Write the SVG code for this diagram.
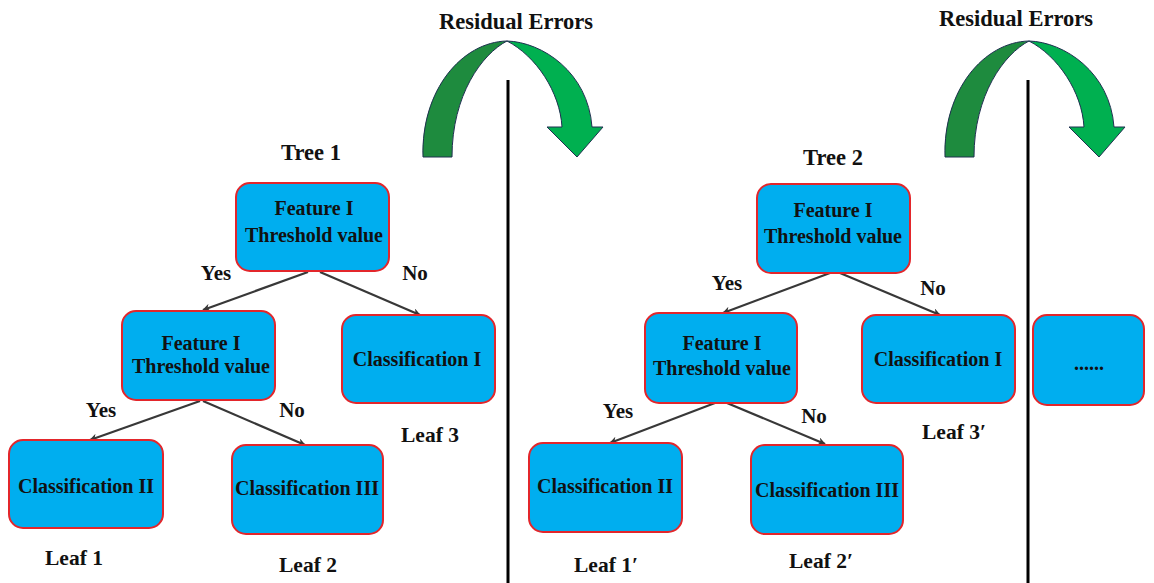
<svg xmlns="http://www.w3.org/2000/svg" width="1154" height="583" viewBox="0 0 1154 583">
<defs>
<style>
.box{fill:#00AEEF;stroke:#E3262B;stroke-width:2}
.t{font-family:"Liberation Serif",serif;font-weight:bold;fill:#111;text-anchor:middle}
.bt{font-size:20px}
.lbl{font-size:21px}
.lf{font-size:21.5px}
.ttl{font-size:22.5px}
.cn{stroke:#383838;stroke-width:2.2;fill:none;marker-end:url(#ah)}
.sep{stroke:#000;stroke-width:3}
</style>
<marker id="ah" viewBox="0 0 10 10" refX="9" refY="5" markerWidth="8" markerHeight="8" orient="auto" markerUnits="userSpaceOnUse">
<path d="M0,0 L10,5 L0,10 L3,5 Z" fill="#383838"/>
</marker>
<g id="curl">
<path d="M423,157 C421,90 462,42 507,41 C482,54 452,95 452,157 Z" fill="#1E8B3E" stroke="#1f3050" stroke-width="1"/>
<path d="M507,41 C542,42 588,72 592,127 L603,127 L577,157 L547,127 L562,127 C560,92 536,56 507,41 Z" fill="#00B050" stroke="#1f3050" stroke-width="1"/>
</g>
</defs>
<rect width="1154" height="583" fill="#fff"/>

<g id="residual1">
<use href="#curl"/>
<text class="t ttl" x="516" y="29">Residual Errors</text>
</g>
<g id="residual2">
<use href="#curl" transform="translate(522,0)"/>
<text class="t ttl" x="1016" y="26">Residual Errors</text>
</g>

<g id="separators">
<line class="sep" x1="508" y1="80" x2="508" y2="583"/>
<line class="sep" x1="1028" y1="80" x2="1028" y2="583"/>
</g>

<g id="connectors">
<path class="cn" d="M308,272 L203,310"/>
<path class="cn" d="M320,272 L420,315"/>
<path class="cn" d="M200,401 L90,440"/>
<path class="cn" d="M203,401 L305,445"/>
<path class="cn" d="M830,273 L723,313"/>
<path class="cn" d="M840,273 L940,315"/>
<path class="cn" d="M715,403 L610,443"/>
<path class="cn" d="M727,403 L825,444"/>
</g>

<g id="labels">
<text class="t ttl" x="311" y="160">Tree 1</text>
<text class="t ttl" x="833" y="165">Tree 2</text>
<text class="t lbl" x="216" y="280">Yes</text>
<text class="t lbl" x="415" y="280">No</text>
<text class="t lbl" x="101" y="417">Yes</text>
<text class="t lbl" x="292" y="417">No</text>
<text class="t lbl" x="727" y="290">Yes</text>
<text class="t lbl" x="933" y="295">No</text>
<text class="t lbl" x="618" y="418">Yes</text>
<text class="t lbl" x="814" y="423">No</text>
<text class="t lf" x="74" y="565">Leaf 1</text>
<text class="t lf" x="308" y="572">Leaf 2</text>
<text class="t lf" x="430" y="442">Leaf 3</text>
<text class="t lf" x="606" y="572">Leaf 1′</text>
<text class="t lf" x="821" y="568">Leaf 2′</text>
<text class="t lf" x="954" y="439">Leaf 3′</text>
</g>

<g id="t1-root">
<rect class="box" x="236" y="183" width="153" height="88" rx="14"/>
<text class="t bt" x="314" y="215">Feature I</text>
<text class="t bt" x="314" y="242">Threshold value</text>
</g>
<g id="t1-mid">
<rect class="box" x="122" y="311" width="153" height="89" rx="14"/>
<text class="t bt" x="201" y="350">Feature I</text>
<text class="t bt" x="201" y="373">Threshold value</text>
</g>
<g id="t1-class1">
<rect class="box" x="342" y="315" width="153" height="88" rx="14"/>
<text class="t bt" x="417" y="366">Classification I</text>
</g>
<g id="t1-class2">
<rect class="box" x="9" y="440" width="154" height="88" rx="14"/>
<text class="t bt" x="86" y="493">Classification II</text>
</g>
<g id="t1-class3">
<rect class="box" x="232" y="445" width="151" height="89" rx="14"/>
<text class="t bt" x="307" y="495">Classification III</text>
</g>

<g id="t2-root">
<rect class="box" x="757" y="184" width="153" height="89" rx="14"/>
<text class="t bt" x="833" y="217">Feature I</text>
<text class="t bt" x="833" y="243">Threshold value</text>
</g>
<g id="t2-mid">
<rect class="box" x="645" y="313" width="152" height="90" rx="14"/>
<text class="t bt" x="722" y="350">Feature I</text>
<text class="t bt" x="722" y="375">Threshold value</text>
</g>
<g id="t2-class1">
<rect class="box" x="862" y="315" width="153" height="88" rx="14"/>
<text class="t bt" x="938" y="366">Classification I</text>
</g>
<g id="t2-class2">
<rect class="box" x="529" y="443" width="153" height="89" rx="14"/>
<text class="t bt" x="605" y="493">Classification II</text>
</g>
<g id="t2-class3">
<rect class="box" x="751" y="445" width="152" height="89" rx="14"/>
<text class="t bt" x="827" y="497">Classification III</text>
</g>
<g id="more">
<rect class="box" x="1033" y="315" width="111" height="90" rx="14"/>
<text class="t bt" x="1089" y="370">......</text>
</g>
</svg>
